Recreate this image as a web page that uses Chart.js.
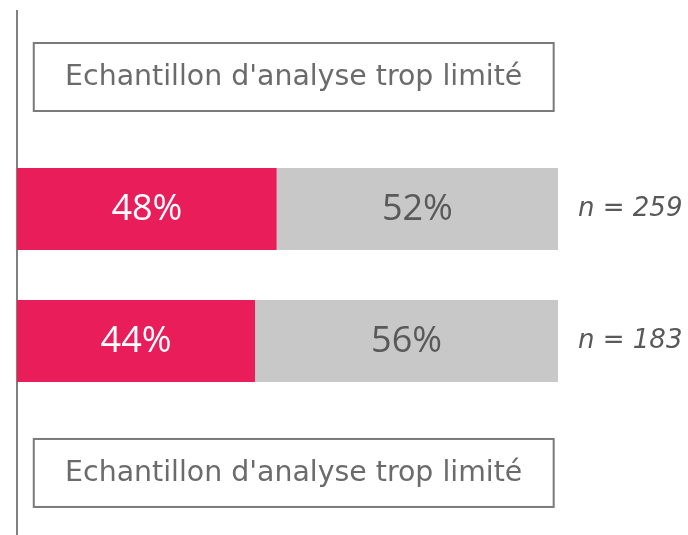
<!DOCTYPE html>
<html>
<head>
<meta charset="utf-8">
<script src="https://cdn.jsdelivr.net/npm/chart.js@4/dist/chart.umd.min.js"></script>
<style>
  html, body { margin: 0; padding: 0; background: #ffffff; }
  #wrap { width: 688px; height: 535px; position: relative; }
</style>
</head>
<body>
<div id="wrap"><canvas id="c"></canvas></div>
<script>
const categories = ['Groupe 1', 'Groupe 2', 'Groupe 3', 'Groupe 4'];
const shareYes = [null, 48, 44, null];
const shareNo = [null, 52, 56, null];
const sampleSizes = ['', 'n = 259', 'n = 183', ''];
const tooSmall = [true, false, false, true];
const tooSmallText = "Echantillon d'analyse trop limité";

const toPoints = arr => arr.map((v, i) => ({ y: i, x: v }));

const extrasPlugin = {
  id: 'extras',
  afterDatasetsDraw(chart) {
    const ctx = chart.ctx;
    const xs = chart.scales.x, ys = chart.scales.y;
    ctx.save();
    chart.data.datasets.forEach((ds, di) => {
      const meta = chart.getDatasetMeta(di);
      meta.data.forEach((bar, i) => {
        const v = ds.data[i].x;
        if (v == null) return;
        const p = bar.getProps(['x', 'base', 'y'], true);
        const cx = (p.x + p.base) / 2;
        ctx.font = '36px "Open Sans"';
        ctx.fillStyle = di === 0 ? '#ffffff' : '#595959';
        ctx.textAlign = 'center';
        ctx.textBaseline = 'middle';
        ctx.fillText(v + '%', cx, p.y + 1);
      });
    });
    categories.forEach((c, i) => {
      const y = ys.getPixelForValue(i);
      if (sampleSizes[i]) {
        ctx.font = 'italic 26px "DejaVu Sans"';
        ctx.fillStyle = '#595959';
        ctx.textAlign = 'left';
        ctx.textBaseline = 'middle';
        ctx.fillText(sampleSizes[i], xs.getPixelForValue(100) + 20, y);
      }
      if (tooSmall[i]) {
        const x0 = xs.getPixelForValue(3.1);
        const x1 = xs.getPixelForValue(99.2);
        const h = 68;
        ctx.fillStyle = '#ffffff';
        ctx.fillRect(x0, y - h / 2, x1 - x0, h);
        ctx.strokeStyle = '#7a7a7a';
        ctx.lineWidth = 2;
        ctx.strokeRect(x0, y - h / 2, x1 - x0, h);
        ctx.font = '28.4px "DejaVu Sans"';
        ctx.fillStyle = '#6b6b6b';
        ctx.textAlign = 'center';
        ctx.textBaseline = 'middle';
        ctx.fillText(tooSmallText, (x0 + x1) / 2, y + 1);
      }
    });
    ctx.restore();
  }
};

new Chart(document.getElementById('c'), {
  type: 'bar',
  data: {
    datasets: [
      { label: 'Oui', data: toPoints(shareYes), backgroundColor: '#e81d5a', borderWidth: 0, barPercentage: 0.62, categoryPercentage: 1 },
      { label: 'Non', data: toPoints(shareNo), backgroundColor: '#c8c8c8', borderWidth: 0, barPercentage: 0.62, categoryPercentage: 1 }
    ]
  },
  options: {
    indexAxis: 'y',
    responsive: true,
    maintainAspectRatio: false,
    animation: false,
    layout: { padding: { left: 17, right: 130, top: 11, bottom: 0 } },
    plugins: { legend: { display: false }, tooltip: { enabled: false } },
    scales: {
      x: { stacked: true, min: 0, max: 100, display: false },
      y: {
        type: 'linear',
        stacked: true,
        reverse: true,
        offset: false,
        grace: 0,
        min: -0.5,
        max: 3.47,
        ticks: { display: false, stepSize: 1, includeBounds: false },
        grid: { display: false, drawTicks: false },
        border: { display: true, color: '#808080', width: 2 }
      }
    }
  },
  plugins: [extrasPlugin]
});
</script>
</body>
</html>
